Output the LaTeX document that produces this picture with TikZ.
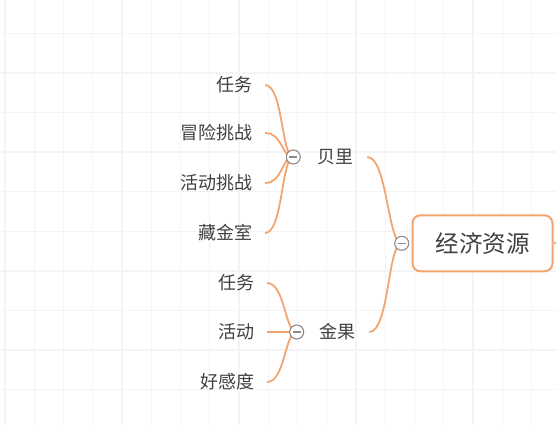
\documentclass[tikz,border=0pt]{standalone}
\usepackage{fontspec}
\newfontfamily\cjk{Noto Sans CJK SC}
\usepackage{tikz}
\usetikzlibrary{backgrounds}
\definecolor{branch}{HTML}{F2A56E}
\definecolor{ink}{HTML}{404040}
\definecolor{gridline}{HTML}{F4F4F4}
\definecolor{knob}{HTML}{8C8C8C}
\tikzstyle{leaf} = [text=ink, font=\cjk\fontsize{18}{20}\selectfont, inner xsep=12pt, inner ysep=0pt, anchor=east]
\tikzstyle{topic} = [text=ink, font=\cjk\fontsize{18}{20}\selectfont, inner xsep=13.5pt, inner ysep=0pt]
\tikzstyle{rootbox} = [draw=branch, line width=2pt, fill=white, rounded corners=8pt, text=ink, font=\cjk\fontsize{23.5}{26}\selectfont, minimum width=140pt, minimum height=56pt]
\tikzstyle{toggle} = [draw=knob, line width=1.1pt, circle, fill=white, minimum size=14pt, inner sep=0pt,
    path picture={\draw[knob, line width=1.1pt] ([xshift=-4pt]path picture bounding box.center) -- ([xshift=4pt]path picture bounding box.center);}]
\tikzstyle{link} = [draw=branch, line width=1.8pt]

\begin{document}
\begin{tikzpicture}[x=1pt, y=-1pt]
\useasboundingbox (0,0) rectangle (556,425);
\clip (0,0) rectangle (556,425);

% main topic
\node [rootbox] (root) at (482.5,243.3) {经济资源};
\node [toggle] (tog-root) at (401.7,243.3) {};

% branches
\node [topic] (beili) at (335.5,157) {贝里};
\node [toggle] (tog-beili) at (293.3,157) {};
\node [topic] (jinguo) at (337.5,332) {金果};
\node [toggle] (tog-jinguo) at (296.7,332) {};

% leaves of beili
\node [leaf] (bl-task) at (265,85) {任务};
\node [leaf] (bl-risk) at (265,133) {冒险挑战};
\node [leaf] (bl-event) at (265,183) {活动挑战};
\node [leaf] (bl-vault) at (265,233) {藏金室};

% leaves of jinguo
\node [leaf] (jg-task) at (267,283) {任务};
\node [leaf] (jg-event) at (267,332) {活动};
\node [leaf] (jg-favor) at (267,382) {好感度};

\coordinate (rootout) at (562,243.3);

\begin{scope}[on background layer]
\foreach \k in {0,...,18}
    \draw[gridline, line width=1.4pt] (5+29.25*\k,0) -- (5+29.25*\k,425);
\foreach \k in {0,...,9}
    \draw[gridline, line width=1.4pt] (0,33.3+39.6*\k) -- (556,33.3+39.6*\k);

\draw[link] (beili.east) .. controls +(20,0) and +(-14,0) .. (tog-root.center);
\draw[link] (jinguo.east) .. controls +(20,0) and +(-14,0) .. (tog-root.center);
\foreach \n in {bl-task,bl-risk,bl-event,bl-vault}
    \draw[link] (\n.east) .. controls +(18,0) and +(-12,0) .. (tog-beili.center);
\foreach \n in {jg-task,jg-event,jg-favor}
    \draw[link] (\n.east) .. controls +(18,0) and +(-12,0) .. (tog-jinguo.center);
\end{scope}

\draw[link] (root.east) -- (rootout);
\end{tikzpicture}
\end{document}
